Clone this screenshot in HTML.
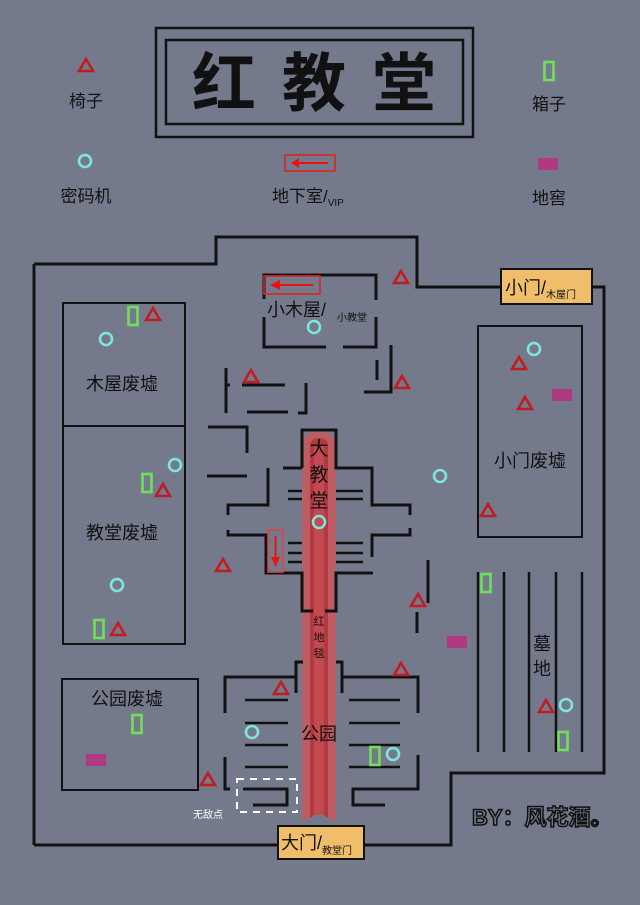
<!DOCTYPE html>
<html><head><meta charset="utf-8"><style>
html,body{margin:0;padding:0;background:#747a8c;}
svg{display:block;}
text{font-family:"Liberation Sans","Noto Sans CJK SC",sans-serif;fill:#111;}
</style></head><body>
<svg width="640" height="905" viewBox="0 0 640 905" xmlns="http://www.w3.org/2000/svg">
<defs>
<g id="tri"><polygon points="0,-7 7,5 -7,5" fill="none" stroke="#c01c22" stroke-width="2.6"/></g>
<g id="cir"><circle r="6" fill="none" stroke="#7fe6dc" stroke-width="2.6"/></g>
<g id="box"><rect x="-4.5" y="-9" width="9" height="18" fill="none" stroke="#6fe05a" stroke-width="2.6"/></g>
<g id="cel"><rect x="-10" y="-6" width="20" height="12" fill="#b03a80"/></g>
</defs>
<rect width="640" height="905" fill="#747a8c"/>

<!-- header -->
<rect x="156" y="28" width="317" height="109" fill="none" stroke="#111" stroke-width="2.5"/>
<rect x="166" y="40" width="297" height="84" fill="none" stroke="#111" stroke-width="2.5"/>
<text x="327" y="106" font-size="64" font-weight="bold" text-anchor="middle" letter-spacing="26">红教堂</text>

<use href="#tri" x="86" y="66"/>
<text x="86" y="107" font-size="17" text-anchor="middle">椅子</text>
<use href="#box" x="549" y="71"/>
<text x="549" y="110" font-size="17" text-anchor="middle">箱子</text>
<use href="#cir" x="85" y="161"/>
<text x="86" y="202" font-size="17" text-anchor="middle">密码机</text>
<rect x="285" y="155" width="50" height="16" fill="none" stroke="#d22" stroke-width="1.6"/>
<line x1="296" y1="163" x2="328" y2="163" stroke="#e11" stroke-width="2"/>
<polygon points="291,163 299,158 299,168" fill="#e11"/>
<text x="272" y="202" font-size="17">地下室/<tspan font-size="10" dy="4">VIP</tspan></text>
<use href="#cel" x="548" y="164"/>
<text x="549" y="204" font-size="17" text-anchor="middle">地窖</text>

<!-- carpet -->
<path d="M302,446 Q302,432 319,432 Q336,432 336,446 L336,822 L319,812 L302,822 Z" fill="#c9585c" opacity="0.85"/>
<path d="M310,446 Q310,438 319,438 Q328,438 328,446 L328,818 L319,812 L310,818 Z" fill="#b3383f"/>
<path d="M314,446 L324,446 L324,815 L314,815 Z" fill="#c24a50"/>

<g fill="none" stroke="#111" stroke-width="3">
<path d="M34,264 L216,264 L216,237 L417,237 L417,287 L501,287 M592,287 L604,287 L604,773 L451,773 L451,845 L364,845 M278,845 L34,845 Z" />
<path d="M34,264 L34,845"/>
</g>
<g fill="none" stroke="#111" stroke-width="2">
<rect x="63" y="303" width="122" height="123"/>
<rect x="63" y="426" width="122" height="218"/>
<rect x="62" y="679" width="136" height="111"/>
<rect x="478" y="326" width="104" height="211"/>
</g>
<g fill="none" stroke="#111" stroke-width="3">
<path d="M264,299 L264,275 L376,275 L376,300 M376,317 L376,347 L343,347 M326,347 L264,347 L264,317"/>
<path d="M391,345 L391,392 L364,392 M377,360 L377,380"/>
<path d="M226,368 L226,413 M226,385 L230,385 M242,385 L285,385 M306,383 L306,413 L298,413 M247,412 L288,412"/>
<path d="M208,427 L247,427 L247,453 M207,476 L247,476"/>
<path d="M302,468 L302,430 L336,430 L336,468 L372,468 L372,505 L410,505 L410,515"/>
<path d="M302,468 L283,468 M268,468 L268,505 L228,505 L228,515"/>
<path d="M228,530 L228,535 L266,535 L266,573 L302,573 L302,611 L313,611"/>
<path d="M410,528 L410,535 L372,535 L372,557 M373,573 L336,573 L336,611 L325,611"/>
<path d="M428,560 L428,603 M417,612 L417,633"/>
<path d="M225,713 L225,677 L296,677 M296,693 L296,662 L303,662 M336,662 L342,662 L342,693 M342,677 L418,677 L418,713"/>
<path d="M225,757 L225,789 L230,789 M243,789 L287,789 L287,805 L253,805"/>
<path d="M418,755 L418,789 L353,789 L353,805 L385,805"/>
</g>
<g stroke="#111" stroke-width="2.5">
<line x1="288" y1="491" x2="302" y2="491"/><line x1="288" y1="499" x2="302" y2="499"/>
<line x1="336" y1="491" x2="363" y2="491"/><line x1="336" y1="499" x2="363" y2="499"/>
<line x1="288" y1="543" x2="302" y2="543"/><line x1="288" y1="553" x2="302" y2="553"/><line x1="288" y1="562" x2="302" y2="562"/>
<line x1="336" y1="543" x2="363" y2="543"/><line x1="336" y1="553" x2="363" y2="553"/><line x1="336" y1="562" x2="363" y2="562"/>
<line x1="245" y1="700" x2="288" y2="700"/><line x1="245" y1="723" x2="288" y2="723"/><line x1="245" y1="745" x2="288" y2="745"/><line x1="245" y1="767" x2="288" y2="767"/>
<line x1="349" y1="700" x2="400" y2="700"/><line x1="349" y1="723" x2="400" y2="723"/><line x1="349" y1="745" x2="400" y2="745"/><line x1="349" y1="767" x2="400" y2="767"/>
<line x1="478" y1="572" x2="478" y2="752"/><line x1="504" y1="572" x2="504" y2="752"/><line x1="529" y1="572" x2="529" y2="752"/><line x1="556" y1="572" x2="556" y2="752"/><line x1="582" y1="572" x2="582" y2="752"/>
</g>

<rect x="501" y="269" width="91" height="35" fill="#f0bd6a" stroke="#111" stroke-width="2"/>
<text x="505" y="294" font-size="18">小门/<tspan font-size="10" dy="4">木屋门</tspan></text>
<rect x="278" y="826" width="86" height="33" fill="#f0bd6a" stroke="#111" stroke-width="2"/>
<text x="281" y="849" font-size="18">大门/<tspan font-size="10" dy="5">教堂门</tspan></text>

<rect x="264" y="276" width="56" height="18" fill="none" stroke="#d22" stroke-width="1.6"/>
<line x1="280" y1="285" x2="313" y2="285" stroke="#e11" stroke-width="2"/>
<polygon points="270,285 280,280 280,290" fill="#e11"/>
<rect x="268" y="530" width="15" height="42" fill="none" stroke="#d44" stroke-width="1.6"/>
<line x1="275.5" y1="536" x2="275.5" y2="560" stroke="#e11" stroke-width="2"/>
<polygon points="275.5,567 271,557 280,557" fill="#e11"/>

<rect x="237" y="779" width="60" height="33" fill="none" stroke="#fff" stroke-width="2" stroke-dasharray="7,6"/>
<text x="193" y="818" font-size="10" style="fill:#fff">无敌点</text>

<text x="122" y="390" font-size="18" text-anchor="middle">木屋废墟</text>
<text x="122" y="539" font-size="18" text-anchor="middle">教堂废墟</text>
<text x="127" y="705" font-size="18" text-anchor="middle">公园废墟</text>
<text x="530" y="467" font-size="18" text-anchor="middle">小门废墟</text>
<text x="542" y="650" font-size="18" text-anchor="middle">墓</text>
<text x="542" y="675" font-size="18" text-anchor="middle">地</text>
<text x="267" y="316" font-size="18">小木屋/</text>
<text x="337" y="321" font-size="10">小教堂</text>
<text x="319" y="455" font-size="19" text-anchor="middle">大</text>
<text x="319" y="481" font-size="19" text-anchor="middle">教</text>
<text x="319" y="507" font-size="19" text-anchor="middle">堂</text>
<text x="319" y="625" font-size="11" text-anchor="middle">红</text>
<text x="319" y="641" font-size="11" text-anchor="middle">地</text>
<text x="319" y="657" font-size="11" text-anchor="middle">毯</text>
<text x="319" y="740" font-size="18" text-anchor="middle">公园</text>
<text x="472" y="825" font-size="22" font-weight="bold" style="fill:#747a8c;stroke:#111;stroke-width:1.5">BY：风花酒。</text>

<use href="#box" x="133" y="316"/><use href="#tri" x="153" y="315"/><use href="#cir" x="106" y="339"/>
<use href="#cir" x="175" y="465"/><use href="#box" x="147" y="483"/><use href="#tri" x="163" y="491"/>
<use href="#cir" x="117" y="585"/><use href="#box" x="99" y="629"/><use href="#tri" x="118" y="630"/>
<use href="#box" x="137" y="724"/><use href="#cel" x="96" y="760"/><use href="#tri" x="208" y="780"/>
<use href="#tri" x="401" y="278"/><use href="#cir" x="314" y="327"/><use href="#tri" x="251" y="377"/><use href="#tri" x="402" y="383"/>
<use href="#cir" x="319" y="522"/><use href="#tri" x="223" y="566"/>
<use href="#tri" x="418" y="601"/><use href="#tri" x="401" y="670"/><use href="#tri" x="281" y="689"/>
<use href="#cir" x="252" y="732"/><use href="#box" x="375" y="756"/><use href="#cir" x="393" y="754"/>
<use href="#cir" x="534" y="349"/><use href="#tri" x="519" y="364"/><use href="#cel" x="562" y="395"/><use href="#tri" x="525" y="404"/>
<use href="#cir" x="440" y="476"/><use href="#tri" x="488" y="511"/>
<use href="#box" x="486" y="583"/><use href="#cel" x="457" y="642"/><use href="#tri" x="546" y="707"/><use href="#cir" x="566" y="705"/><use href="#box" x="563" y="741"/>
</svg>
</body></html>
